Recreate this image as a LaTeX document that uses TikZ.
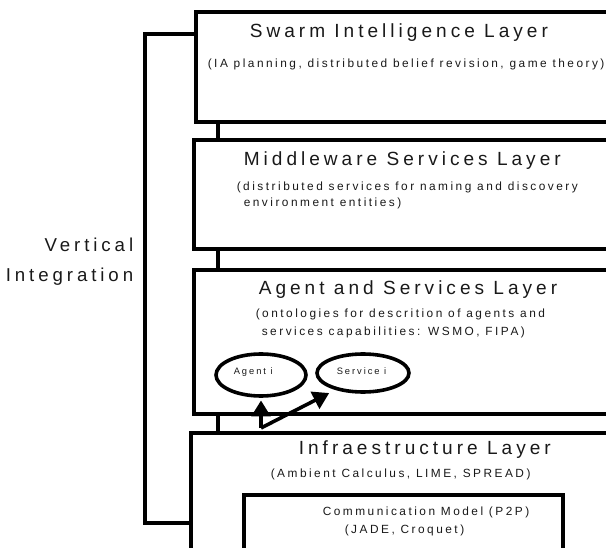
\documentclass[tikz,border=0pt]{standalone}
\usepackage{fontspec}
\setmainfont{Liberation Sans}[LetterSpace=21]
\usetikzlibrary{shapes.geometric,arrows.meta}
\begin{document}
\begin{tikzpicture}[x=0.75pt,y=-0.75pt,line width=2.7pt,
  layer/.style={draw,rectangle,anchor=north west,inner sep=0pt},
  ttl/.style={font=\fontsize{14.3}{16}\selectfont,anchor=base west,inner sep=0pt,text=black!90},
  subt/.style={font=\fontsize{8.9}{10}\selectfont,anchor=base west,inner sep=0pt,text=black!90},
  small/.style={font=\fontsize{7}{8}\selectfont,anchor=base west,inner sep=0pt,text=black!90},
  side/.style={font=\fontsize{14}{16}\selectfont,anchor=base east,inner sep=0pt,text=black!90},
  ell/.style={draw,ellipse,inner sep=0pt},
  arr/.style={-{Triangle[width=14pt,length=12pt]},line width=2.7pt}]
\useasboundingbox (0,0) rectangle (606,548);
\clip (0,0) rectangle (606,548);
% layer boxes
\node[layer,minimum width={426*0.75pt},minimum height={110*0.75pt}] (swarm) at (194,10) {};
\node[layer,minimum width={430*0.75pt},minimum height={109*0.75pt}] (mid) at (192,138) {};
\node[layer,minimum width={430*0.75pt},minimum height={144*0.75pt}] (agentl) at (192,268) {};
\node[layer,minimum width={433*0.75pt},minimum height={130*0.75pt}] (infra) at (189,431) {};
\node[layer,minimum width={319*0.75pt},minimum height={54.5*0.75pt}] (comm) at (242,493) {};
% vertical connectors between layers
\coordinate (vx) at (218,0);
\draw (swarm.south -| vx) -- (mid.north -| vx);
\draw (mid.south -| vx) -- (agentl.north -| vx);
\draw (agentl.south -| vx) -- (infra.north -| vx);
% vertical integration bracket
\coordinate (bt) at (145,34);
\coordinate (bb) at (145,523);
\draw (swarm.west |- bt) -- (bt) -- (bb) -- (infra.west |- bb);
\node[side] (vert) at (135,252) {Vertical};
\node[side] (integ) at (135,281.5) {Integration};
% texts
\node[ttl] (t1) at (248,38) {Swarm Intelligence Layer};
\node[subt] (s1) at (206,67.5) {(IA planning, distributed belief revision, game theory)};
\node[ttl] (t2) at (242,166) {Middleware Services Layer};
\node[subt] (s2a) at (235,191) {(distributed services for naming and discovery};
\node[subt] (s2b) at (242,207) {environment entities)};
\node[ttl] (t3) at (257,295) {Agent and Services Layer};
\node[subt] (s3a) at (254,318) {(ontologies for descrition of agents and};
\node[subt] (s3b) at (260,336) {services capabilities: WSMO, FIPA)};
\node[ttl] (t4) at (297,454) {Infraestructure Layer};
\node[subt] (s4) at (269,477) {(Ambient Calculus, LIME, SPREAD)};
\node[subt] (c1) at (321,515) {Communication Model (P2P)};
\node[subt] (c2) at (343,533) {(JADE, Croquet)};
% agent and service
\node[ell,minimum width={90*0.75pt},minimum height={42*0.75pt}] (agent) at (261,375) {};
\node[ell,minimum width={92*0.75pt},minimum height={38*0.75pt}] (service) at (363,373) {};
\node[small] (at) at (232,375) {Agent i};
\node[small] (st) at (335,375) {Service i};
\coordinate (ab) at (261,428);
\draw[arr,shorten >=2pt] (ab) -- (agent.south);
\draw[arr] (ab) -- ([yshift=-4pt]service.south west);
\end{tikzpicture}
\end{document}
